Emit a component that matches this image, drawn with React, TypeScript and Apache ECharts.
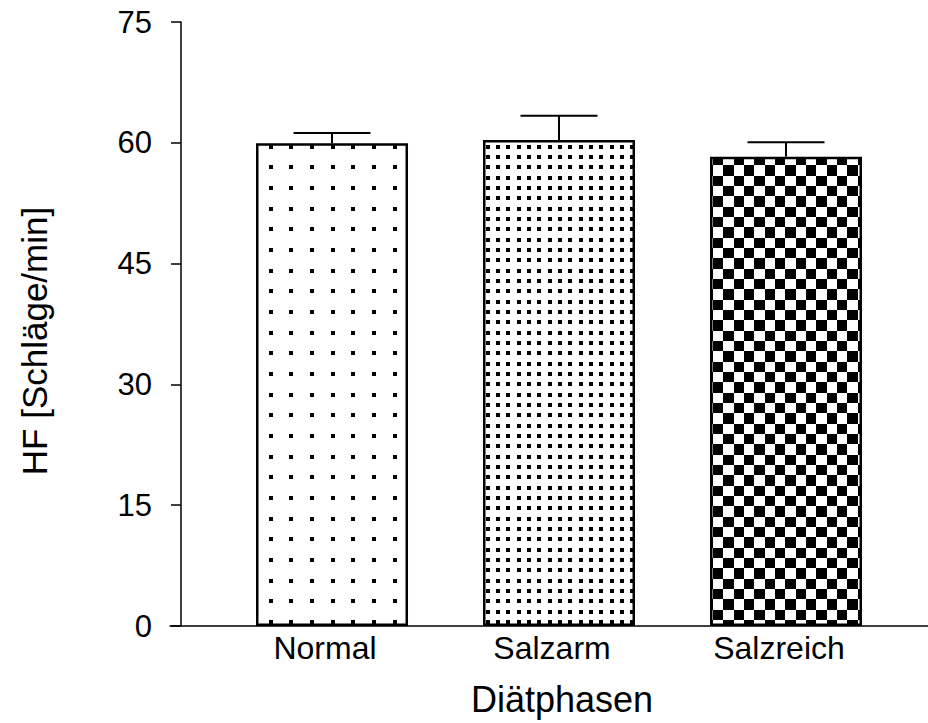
import React, { useEffect, useRef } from "react";
import * as echarts from "echarts";

const categories = ["Normal", "Salzarm", "Salzreich"];
const positions = [1, 2, 3];
const means = [59.94, 60.35, 58.28];
const errors = [1.28, 3.02, 1.78];
const yTicks = { min: 0, max: 75, interval: 15 };
const yTitle = "HF [Schläge/min]";
const xTitle = "Diätphasen";

function makeCanvas(size: number, draw: (ctx: CanvasRenderingContext2D) => void) {
  const c = document.createElement("canvas");
  c.width = size;
  c.height = size;
  const ctx = c.getContext("2d")!;
  ctx.fillStyle = "#fff";
  ctx.fillRect(0, 0, size, size);
  ctx.fillStyle = "#000";
  draw(ctx);
  return c;
}

function patterns() {
  const sparse = makeCanvas(62, (ctx) => {
    const p = [0, 21, 41];
    p.forEach((x) => p.forEach((y) => ctx.fillRect(x, y, 4, 4)));
  });
  const dense = makeCanvas(31, (ctx) => {
    const p = [0, 10, 21];
    p.forEach((x) => p.forEach((y) => ctx.fillRect(x, y, 4, 4)));
  });
  const checker = makeCanvas(62, (ctx) => {
    const p = [0, 10, 21, 31, 41, 52, 62];
    for (let i = 0; i < 6; i++)
      for (let j = 0; j < 6; j++)
        if ((i + j) % 2 === 0) ctx.fillRect(p[i], p[j], p[i + 1] - p[i], p[j + 1] - p[j]);
  });
  return [
    { image: sparse, repeat: "repeat", imageWidth: 62, imageHeight: 62, x: 6, y: 58 },
    { image: dense, repeat: "repeat", imageWidth: 31, imageHeight: 31, x: 17, y: 23 },
    { image: checker, repeat: "repeat", imageWidth: 62, imageHeight: 62, x: 27, y: 52 },
  ];
}

export default function App() {
  const ref = useRef<HTMLDivElement>(null);
  useEffect(() => {
    const chart = echarts.init(ref.current!, null, { renderer: "svg" });
    const pats = patterns();
    const font = "Liberation Sans, Arial, sans-serif";
    chart.setOption({
      animation: false,
      backgroundColor: "#fff",
      grid: { left: 170, right: 0, top: 22, bottom: 97 },
      xAxis: {
        type: "value",
        min: 0.2863,
        max: 3.6255,
        splitLine: { show: false },
        axisTick: { show: false },
        axisLine: { show: true, lineStyle: { color: "#000", width: 1.5 } },
        axisLabel: {
          color: "#000",
          fontSize: 32,
          fontFamily: font,
          margin: 6,
          padding: [0, 14, 0, 0],
          showMinLabel: false,
          showMaxLabel: false,
          formatter: (v: number) => {
            const r = Math.round(v);
            if (Math.abs(v - r) > 1e-6) return "";
            const i = positions.indexOf(r);
            return i >= 0 ? categories[i] : "";
          },
        },
        name: xTitle,
        nameLocation: "middle",
        nameGap: 55,
        nameTextStyle: { color: "#000", fontSize: 36, fontFamily: font, padding: [0, 0, 0, 26] },
      },
      yAxis: {
        type: "value",
        min: yTicks.min,
        max: yTicks.max,
        interval: yTicks.interval,
        offset: -11,
        splitLine: { show: false },
        axisLine: { show: true, lineStyle: { color: "#000", width: 1.5 } },
        axisTick: { show: true, length: 10, lineStyle: { color: "#000", width: 1.5 } },
        axisLabel: { color: "#000", fontSize: 31, fontFamily: font, margin: 29 },
        name: yTitle,
        nameLocation: "middle",
        nameRotate: 90,
        nameGap: 129,
        nameTextStyle: { color: "#000", fontSize: 35, fontFamily: font, padding: [0, 34, 0, 0] },
      },
      series: [
        {
          type: "bar",
          barWidth: 152,
          data: positions.map((x, i) => ({
            value: [x, means[i]],
            itemStyle: { color: pats[i], borderColor: "#000", borderWidth: 2.5 },
          })),
          z: 2,
        },
        {
          type: "custom",
          z: 3,
          data: positions.map((x, i) => [x, means[i], means[i] + errors[i]]),
          renderItem: (params: any, api: any) => {
            const base = api.coord([api.value(0), api.value(1)]);
            const top = api.coord([api.value(0), api.value(2)]);
            const half = 38.5;
            return {
              type: "group",
              children: [
                {
                  type: "line",
                  shape: { x1: base[0], y1: base[1], x2: top[0], y2: top[1] },
                  style: { stroke: "#000", lineWidth: 2 },
                },
                {
                  type: "line",
                  shape: { x1: top[0] - half, y1: top[1], x2: top[0] + half, y2: top[1] },
                  style: { stroke: "#000", lineWidth: 2 },
                },
              ],
            };
          },
        },
      ],
    });
    return () => chart.dispose();
  }, []);
  return (
    <div
      ref={ref}
      style={{ position: "absolute", left: 0, top: 0, width: 928, height: 723 }}
    />
  );
}
